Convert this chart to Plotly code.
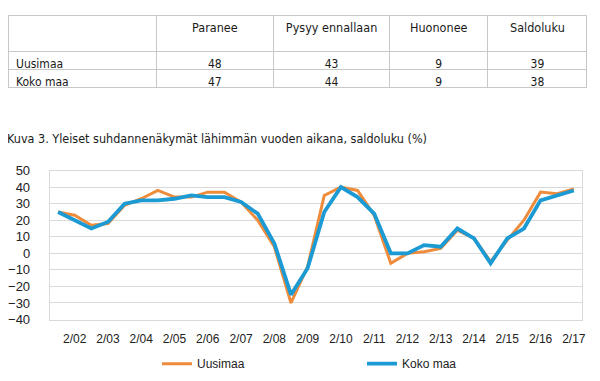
import plotly.graph_objects as go

# ---- table data ----
table_header = ["", "Paranee", "Pysyy ennallaan", "Huononee", "Saldoluku"]
row_labels = ["Uusimaa", "Koko maa"]
paranee = [48, 47]
pysyy = [43, 44]
huononee = [9, 9]
saldoluku = [39, 38]

# ---- chart data ----
periods = ["8/01", "2/02", "8/02", "2/03", "8/03", "2/04", "8/04", "2/05", "8/05",
           "2/06", "8/06", "2/07", "8/07", "2/08", "8/08", "2/09", "8/09", "2/10",
           "8/10", "2/11", "8/11", "2/12", "8/12", "2/13", "8/13", "2/14", "8/14",
           "2/15", "8/15", "2/16", "8/16", "2/17"]
uusimaa = [25, 23, 17, 18, 29, 33, 38, 34, 34, 37, 37, 31, 20, 4, -30, -8,
           35, 40, 38, 23, -6, 0, 1, 3, 14, 9, -5, 8, 20, 37, 36, 39]
koko_maa = [25, 20, 15, 19, 30, 32, 32, 33, 35, 34, 34, 31, 24, 6, -25, -9,
            25, 40, 34, 24, 0, 0, 5, 4, 15, 9, -6, 9, 15, 32, 35, 38]
tick_labels = [p for p in periods if p.startswith("2/")]

ORANGE = "#ef8c3c"
BLUE = "#1b9ad3"
W, H = 600, 381
TFONT = "DejaVu Sans Condensed, DejaVu Sans"

fig = go.Figure()

fig.add_trace(go.Table(
    domain=dict(x=[0, 583 / W], y=[1 - 110 / H, 1]),
    columnwidth=[148, 117, 116, 98, 99],
    header=dict(
        values=table_header,
        height=36,
        align=["left", "center", "center", "center", "center"],
        fill_color="white",
        line=dict(color="#c8c8c8", width=1),
        font=dict(family=TFONT, size=12.5, color="#1a1a1a"),
    ),
    cells=dict(
        values=[row_labels, paranee, pysyy, huononee, saldoluku],
        height=18,
        align=["left", "center", "center", "center", "center"],
        fill_color="white",
        line=dict(color="#c8c8c8", width=1),
        font=dict(family=TFONT, size=12, color="#1a1a1a"),
    ),
))

fig.add_trace(go.Scatter(x=periods, y=uusimaa, mode="lines", name="Uusimaa",
                         line=dict(color=ORANGE, width=3)))
fig.add_trace(go.Scatter(x=periods, y=koko_maa, mode="lines", name="Koko maa",
                         line=dict(color=BLUE, width=3.8)))

fig.update_layout(
    width=W, height=H,
    margin=dict(l=0, r=0, t=0, b=0),
    paper_bgcolor="white", plot_bgcolor="white",
    font=dict(family="Liberation Sans, Arial", size=12, color="#222"),
    xaxis=dict(
        domain=[42 / W, 578 / W],
        type="category",
        range=[-0.5, len(periods) - 0.5],
        tickmode="array", tickvals=tick_labels, ticktext=tick_labels,
        showgrid=False, zeroline=False,
        showline=True, linecolor="#d9d9d9", mirror=True,
        ticks="", ticklabelstandoff=8, tickfont=dict(size=12, color="#222"),
    ),
    yaxis=dict(
        domain=[1 - 317 / H, 1 - 162 / H],
        range=[-40, 50], dtick=10, tick0=0,
        showgrid=True, gridcolor="#d9d9d9", gridwidth=1,
        zeroline=False,
        showline=True, linecolor="#d9d9d9", mirror=True,
        ticks="", ticklabelstandoff=16, tickfont=dict(size=13, color="#222"),
    ),
    legend=dict(
        orientation="h", x=150 / W, xanchor="left", y=1 - 363 / H, yanchor="middle",
        entrywidth=160, entrywidthmode="pixels",
        font=dict(size=12, color="#222"),
        bgcolor="rgba(0,0,0,0)",
    ),
    annotations=[dict(
        text="Kuva 3. Yleiset suhdannenäkymät lähimmän vuoden aikana, saldoluku (%)",
        xref="paper", yref="paper", x=0, y=1 - 129 / H, xshift=-3,
        xanchor="left", yanchor="middle", showarrow=False,
        font=dict(family=TFONT, size=12.5, color="#1a1a1a"),
    )],
)

fig.write_html("out.html")
